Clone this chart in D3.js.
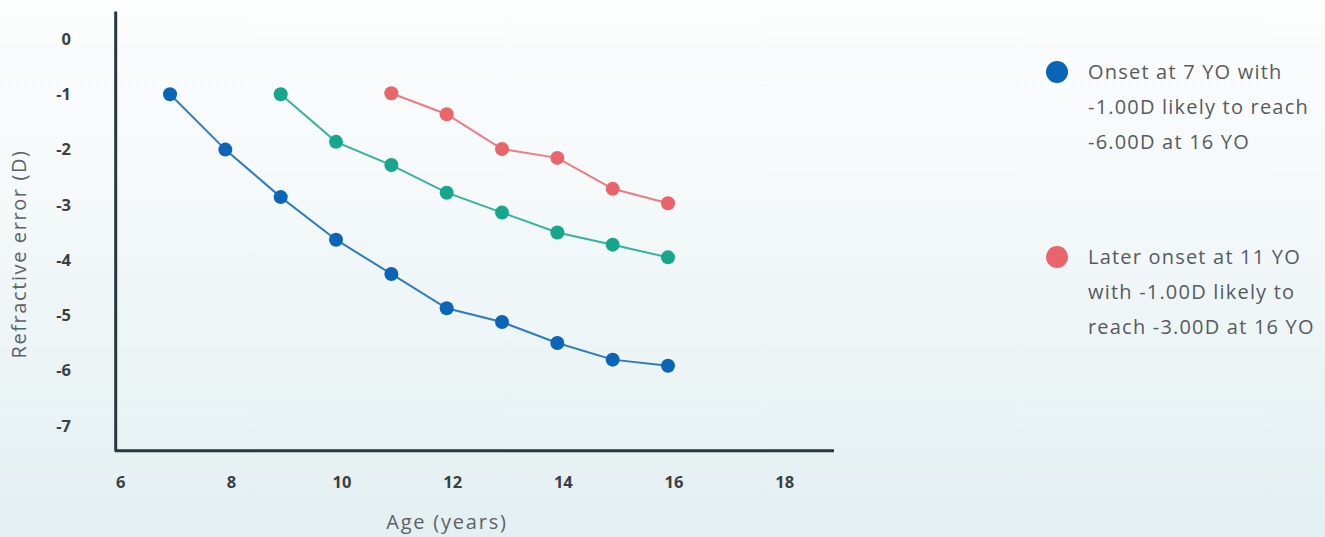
<!DOCTYPE html>
<html><head><meta charset="utf-8">
<script src="https://cdn.jsdelivr.net/npm/d3@7"></script>
<style>
html,body{margin:0;padding:0;}
body{width:1325px;height:537px;overflow:hidden;}
</style></head>
<body><svg id="c" width="1325" height="537"></svg>
<script>
const ages = [7,8,9,10,11,12,13,14,15,16];
const onset7 = [-1,-2,-2.86,-3.63,-4.25,-4.87,-5.12,-5.5,-5.8,-5.91];
const onset9Ages = [9,10,11,12,13,14,15,16];
const onset9 = [-1,-1.86,-2.28,-2.78,-3.14,-3.5,-3.72,-3.95];
const onset11Ages = [11,12,13,14,15,16];
const onset11 = [-0.98,-1.36,-1.99,-2.15,-2.71,-2.97];
const xTicks = [6,8,10,12,14,16,18];
const yTicks = [0,-1,-2,-3,-4,-5,-6,-7];
const legendItems = [
  {color:"#0b65b7", lines:["Onset at 7 YO with","-1.00D likely to reach","-6.00D at 16 YO"]},
  {color:"#ea646c", lines:["Later onset at 11 YO","with -1.00D likely to","reach -3.00D at 16 YO"]}
];
const series = [
  {ages:ages, vals:onset7, color:"#0b65b7"},
  {ages:onset9Ages, vals:onset9, color:"#16a68b"},
  {ages:onset11Ages, vals:onset11, color:"#ea646c"}
];

const svg = d3.select("#c");
const defs = svg.append("defs");
const g = defs.append("linearGradient").attr("id","bg").attr("x1",0).attr("y1",0).attr("x2",0).attr("y2",1);
g.append("stop").attr("offset","0%").attr("stop-color","#fcfdfd");
g.append("stop").attr("offset","35%").attr("stop-color","#f5f9fa");
g.append("stop").attr("offset","100%").attr("stop-color","#e3eff1");
svg.append("rect").attr("width",1325).attr("height",537).attr("fill","url(#bg)");

const x = d3.scaleLinear().domain([6,19]).range([114.7,834]);
const y = d3.scaleLinear().domain([0.5,-7.5]).range([11.4,453.6]);
const font = "'Open Sans', Lato, sans-serif";

// axes
const axisColor = "#253840";
svg.append("line").attr("x1",x(6)+1).attr("x2",x(6)+1).attr("y1",y(0.5)).attr("y2",y(-7.45))
  .attr("stroke",axisColor).attr("stroke-width",3);
svg.append("line").attr("x1",x(6)).attr("x2",x(19)).attr("y1",y(-7.45)).attr("y2",y(-7.45))
  .attr("stroke",axisColor).attr("stroke-width",3);

svg.append("g").selectAll("text").data(yTicks).join("text")
  .attr("x",71).attr("y",d=>y(d)).attr("dy","0.35em").attr("text-anchor","end")
  .attr("font-family",font).attr("font-weight",700).attr("font-size",16.5).attr("fill","#3a3f44")
  .text(d=>d);
svg.append("g").selectAll("text").data(xTicks).join("text")
  .attr("x",d=>x(d)+6).attr("y",482).attr("dy","0.35em").attr("text-anchor","middle")
  .attr("font-family",font).attr("font-weight",700).attr("font-size",16.5).attr("fill","#3a3f44")
  .text(d=>d);

svg.append("text").attr("x",447).attr("y",522).attr("dy","0.35em").attr("text-anchor","middle")
  .attr("font-family",font).attr("font-size",20).attr("letter-spacing",1.8).attr("fill","#5b6268").text("Age (years)");
svg.append("text").attr("transform","translate(19,254) rotate(-90)").attr("dy","0.35em").attr("text-anchor","middle")
  .attr("font-family",font).attr("font-size",20).attr("letter-spacing",1.6).attr("fill","#5b6268").text("Refractive error (D)");

// series
const line = d3.line().x(d=>x(d[0])).y(d=>y(d[1]));
series.forEach(s=>{
  const pts = s.ages.map((a,i)=>[a,s.vals[i]]);
  svg.append("path").attr("d",line(pts)).attr("fill","none").attr("stroke",s.color)
    .attr("stroke-width",2).attr("stroke-opacity",0.85);
  svg.append("g").selectAll("circle").data(pts).join("circle")
    .attr("cx",d=>x(d[0])).attr("cy",d=>y(d[1])).attr("r",7).attr("fill",s.color);
});

// legend
const legY = [72, 257];
legendItems.forEach((it,i)=>{
  svg.append("circle").attr("cx",1057).attr("cy",legY[i]).attr("r",11).attr("fill",it.color);
  it.lines.forEach((t,j)=>{
    svg.append("text").attr("x",1088).attr("y",legY[i]+j*35).attr("dy","0.35em")
      .attr("font-family",font).attr("font-size",20).attr("letter-spacing",1.2).attr("fill","#555b60").text(t);
  });
});
</script></body></html>
